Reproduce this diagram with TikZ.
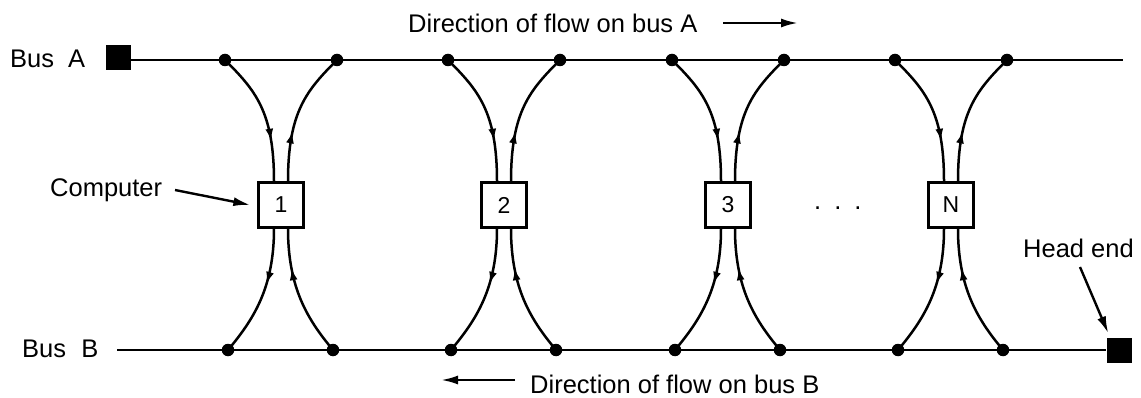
\documentclass[tikz,border=0pt]{standalone}
\usepackage{fontspec}
\setmainfont{Liberation Sans}
\usetikzlibrary{arrows.meta,decorations.markings,calc}
\begin{document}
\begin{tikzpicture}[x=1pt,y=-1pt,
  bus/.style={line width=2.7pt},
  tap/.style={line width=2.5pt},
  mid/.style={decoration={markings, mark=at position #1 with {\arrow{Latex[length=12pt,width=8pt]}}}, postaction=decorate},
  dot/.style={circle, fill=black, inner sep=0pt, minimum size=12.5pt},
  endsq/.style={rectangle, fill=black, inner sep=0pt, minimum size=25pt},
  station/.style={rectangle, draw=black, line width=2.3pt, fill=white, inner sep=0pt, minimum size=45pt, font=\fontsize{23}{26}\selectfont},
  lbl/.style={inner sep=0pt, font=\fontsize{25.5}{30}\selectfont},
  flow/.style={line width=2.4pt, -{Latex[length=17pt,width=9pt]}}]
\useasboundingbox (0,0) rectangle (1141,398);
\fill[white] (0,0) rectangle (1141,398);
% end squares and buses
\node[endsq] (sqA) at (118,58) {};
\node[endsq] (sqB) at (1119,350) {};
\coordinate (endA) at (1123,60);
\coordinate (startB) at (117,350);
\draw[bus] (sqA.east |- endA) -- (endA);
\draw[bus] (startB) -- (sqB.west);
% stations
\foreach \c/\l [count=\i] in {281/1,504/2,728/3,951/N} {
  \node[dot] (al\i) at (\c-56,60) {};
  \node[dot] (ar\i) at (\c+56,60) {};
  \node[dot] (bl\i) at (\c-53,350) {};
  \node[dot] (br\i) at (\c+52,350) {};
  \node[station] (s\i) at (\c,205) {\l};
  \draw[tap,mid=0.7] (al\i.center) .. controls +(30,30) and +(0,-70) .. ($(s\i.north)+(-7,0)$);
  \draw[tap,mid=0.37] ($(s\i.north)+(7,0)$) .. controls +(0,-70) and +(-30,30) .. (ar\i.center);
  \draw[tap,mid=0.42] ($(s\i.south)+(-7,0)$) .. controls +(0,60) and +(25,-30) .. (bl\i.center);
  \draw[tap,mid=0.7] (br\i.center) .. controls +(-25,-30) and +(0,60) .. ($(s\i.south)+(7,0)$);
}
% labels
\node[lbl, anchor=base west] (busA) at (10,68) {Bus\hspace{0.55em}A};
\node[lbl, anchor=base west] (busB) at (22,357) {Bus\hspace{0.6em}B};
\node[lbl, anchor=base west] (flowA) at (408,33) {Direction of flow on bus A};
\node[lbl, anchor=base west] (flowB) at (530,393) {Direction of flow on bus B};
\node[lbl, anchor=base west] (comp) at (50,197) {Computer};
\node[lbl, anchor=base west] (head) at (1023,258) {Head end};
\node[lbl, anchor=base west] (dots) at (814,210) {.\hspace{13pt}.\hspace{13pt}.};
% flow arrows
\coordinate (fa1) at (723,23);
\coordinate (fa2) at (798,23);
\draw[flow] (fa1) -- (fa2);
\coordinate (fb1) at (515,380);
\coordinate (fb2) at (441,380);
\draw[flow] (fb1) -- (fb2);
% pointer arrows
\coordinate (cp) at (175,190);
\draw[flow] (cp) -- ($(s1.west)+(-7,0)$);
\coordinate (hp) at (1080,267);
\draw[flow] (hp) -- ($(sqB.north west)+(2,-4)$);
\end{tikzpicture}
\end{document}
